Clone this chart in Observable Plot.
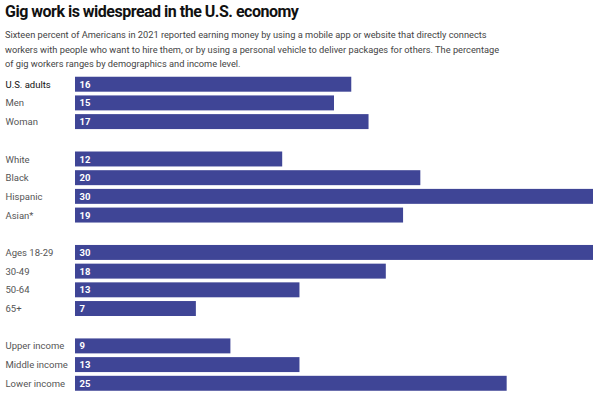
<!DOCTYPE html>
<html>
<head>
<meta charset="utf-8">
<script src="https://cdn.jsdelivr.net/npm/d3@7"></script>
<script src="https://cdn.jsdelivr.net/npm/@observablehq/plot@0.6"></script>
<style>
  html, body { margin: 0; padding: 0; background: #fff; }
  body { width: 600px; height: 398px; overflow: hidden; font-family: Roboto, sans-serif; }
  #head { height: 73px; box-sizing: border-box; padding-left: 5px; }
  #title { font-size: 16px; font-weight: 700; color: #111; letter-spacing: -0.5px; line-height: 24px; height: 28px; }
  #sub { font-size: 9.25px; color: #444; line-height: 14.5px; }
  #chart svg { display: block; }
</style>
</head>
<body>
<div id="head">
  <div id="title">Gig work is widespread in the U.S. economy</div>
  <div id="sub">Sixteen percent of Americans in 2021 reported earning money by using a mobile app or website that directly connects<br>workers with people who want to hire them, or by using a personal vehicle to deliver packages for others. The percentage<br>of gig workers ranges by demographics and income level.</div>
</div>
<div id="chart"></div>
<script>
const groupAll = ["U.S. adults", "Men", "Woman"];
const groupRace = ["White", "Black", "Hispanic", "Asian*"];
const groupAge = ["Ages 18-29", "30-49", "50-64", "65+"];
const groupIncome = ["Upper income", "Middle income", "Lower income"];

const valuesAll = [16, 15, 17];
const valuesRace = [12, 20, 30, 19];
const valuesAge = [30, 18, 13, 7];
const valuesIncome = [9, 13, 25];

const groups = [
  [groupAll, valuesAll],
  [groupRace, valuesRace],
  [groupAge, valuesAge],
  [groupIncome, valuesIncome]
];

const data = [];
const domain = [];
groups.forEach(([labels, values], gi) => {
  if (gi > 0) domain.push("gap" + gi);
  labels.forEach((l, i) => {
    domain.push(l);
    data.push({label: l, value: values[i], bold: gi === 0 && i === 0});
  });
});

const chart = Plot.plot({
  width: 600,
  height: 325,
  marginLeft: 75,
  marginRight: 7,
  marginTop: 0,
  marginBottom: 3.5,
  style: {fontFamily: "Roboto, sans-serif", background: "#fff"},
  x: {domain: [0, 30], axis: null},
  y: {domain, axis: null, padding: 0.2, round: false},
  marks: [
    Plot.barX(data, {x: "value", y: "label", fill: "#3f4596"}),
    Plot.text(data, {
      y: "label", text: "label", frameAnchor: "left", dx: -70, textAnchor: "start",
      fontSize: 9.5,
      fill: d => d.bold ? "#111" : "#555",
      fontWeight: d => d.bold ? 700 : 400
    }),
    Plot.text(data, {
      x: 0, y: "label", text: d => String(d.value), dx: 4, textAnchor: "start",
      fill: "#fff", fontWeight: 700, fontSize: 9.5
    })
  ]
});
document.getElementById("chart").appendChild(chart);
</script>
</body>
</html>
